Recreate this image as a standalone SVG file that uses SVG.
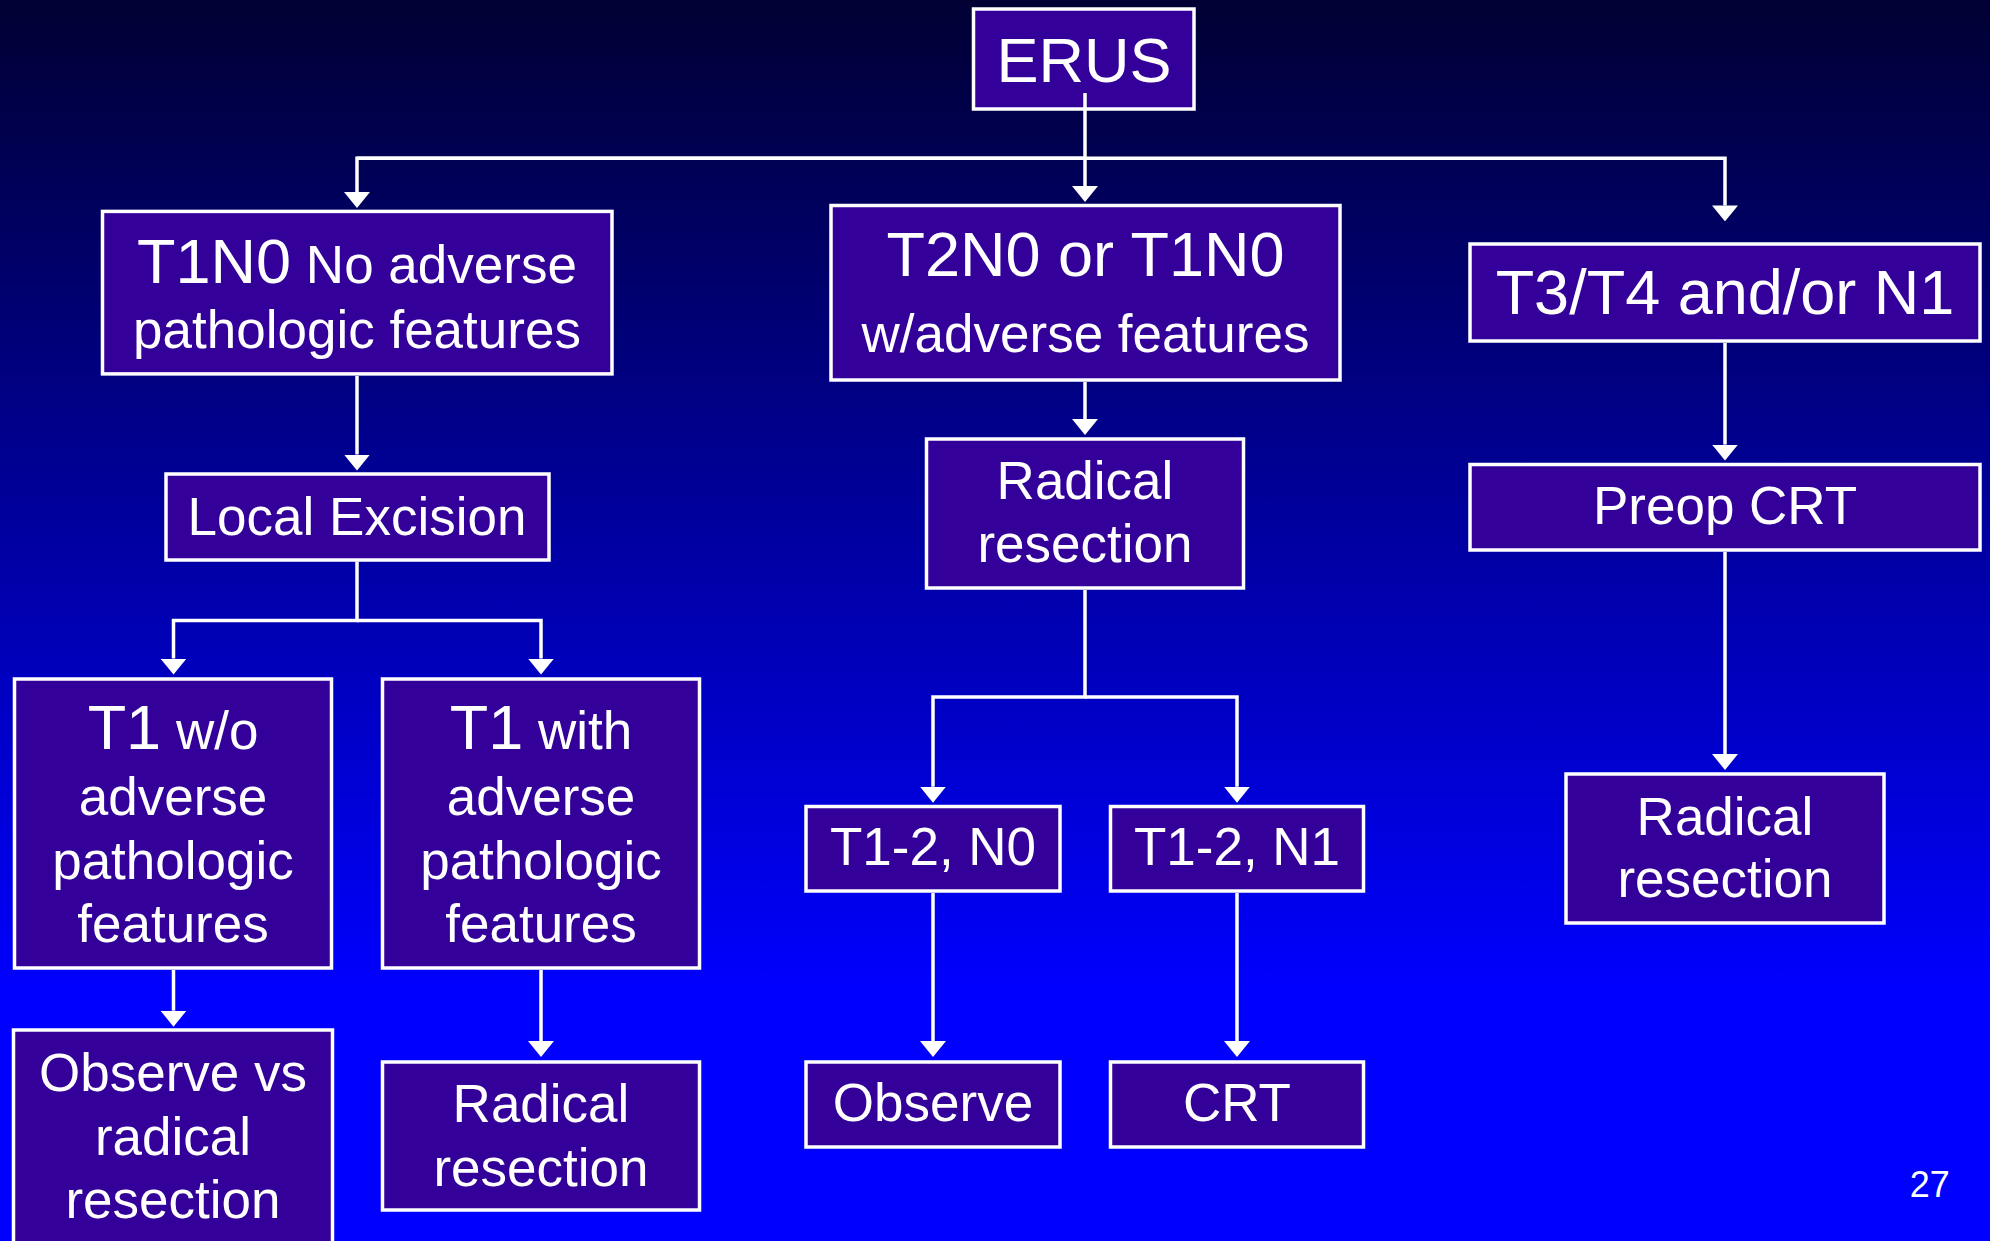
<svg xmlns="http://www.w3.org/2000/svg" width="1990" height="1241" viewBox="0 0 1990 1241">
<defs>
<linearGradient id="bg" x1="0" y1="0" x2="0" y2="1">
<stop offset="0" stop-color="#000033"/>
<stop offset="0.8" stop-color="#0000FF"/>
<stop offset="1" stop-color="#0000FF"/>
</linearGradient>
<marker id="arr" markerUnits="userSpaceOnUse" viewBox="0 0 16 26" markerWidth="16" markerHeight="26" refX="0" refY="13" orient="auto">
<path d="M0,0 L16,13 L0,26 z" fill="#FFFFFF"/>
</marker>
<style>
.box{fill:#330099;stroke:#FFFFFF;stroke-width:3.5}
.t{font-family:"Liberation Sans",Arial,Helvetica,sans-serif;fill:#FFFFFF;text-anchor:middle;font-size:53px}
.b{font-size:63px}
.c{fill:none;stroke:#FFFFFF;stroke-width:3.5;marker-end:url(#arr)}
.n{fill:none;stroke:#FFFFFF;stroke-width:3.5}
</style>
</defs>
<rect x="0" y="0" width="1990" height="1241" fill="url(#bg)"/>

<g id="connectors">
<path class="n" d="M1085 158.3 H357"/>
<path class="c" d="M1085 93 V186"/>
<path class="c" d="M1085 158.3 H357 V192"/>
<path class="c" d="M1085 158.3 H1725 V205.4"/>
<path class="c" d="M357 376 V454.5"/>
<path class="c" d="M1085 382 V419"/>
<path class="c" d="M1725 343 V444.6"/>
<path class="c" d="M357 561.5 V620.5 H173.5 V658.6"/>
<path class="c" d="M357 620.5 H541 V658.6"/>
<path class="c" d="M173.5 970 V1010.7"/>
<path class="c" d="M541 970 V1041"/>
<path class="c" d="M1085 590 V697 H933 V786.7"/>
<path class="c" d="M1085 697 H1237 V786.7"/>
<path class="c" d="M933 893 V1041"/>
<path class="c" d="M1237 893 V1041"/>
<path class="c" d="M1725 552 V754"/>
</g>

<g id="erus">
<rect class="box" x="973.5" y="9" width="220.5" height="100"/>
<text class="t b" x="1084" y="81.7">ERUS</text>
</g>
<path class="n" d="M1085 93 V109"/>

<g id="t1n0">
<rect class="box" x="102.5" y="211.4" width="509.5" height="162.5"/>
<text class="t" x="357" y="282.7"><tspan class="b">T1N0</tspan> No adverse</text>
<text class="t" x="357" y="348">pathologic features</text>
</g>

<g id="t2n0">
<rect class="box" x="831" y="205.5" width="509" height="174.5"/>
<text class="t b" x="1085.5" y="275.6">T2N0 or T1N0</text>
<text class="t" x="1085.5" y="352">w/adverse features</text>
</g>

<g id="t3t4">
<rect class="box" x="1470" y="244" width="510" height="97"/>
<text class="t b" x="1725" y="314.4">T3/T4 and/or N1</text>
</g>

<g id="local-excision">
<rect class="box" x="166" y="474" width="383" height="86"/>
<text class="t" x="357" y="534.6">Local Excision</text>
</g>

<g id="radical-mid">
<rect class="box" x="926.5" y="439" width="317" height="149"/>
<text class="t" x="1085" y="499">Radical</text>
<text class="t" x="1085" y="562.3">resection</text>
</g>

<g id="preop-crt">
<rect class="box" x="1470" y="464.5" width="510" height="85.5"/>
<text class="t" x="1725" y="524">Preop CRT</text>
</g>

<g id="t1-wo">
<rect class="box" x="14.5" y="679" width="317" height="289"/>
<text class="t" x="173" y="748.5"><tspan class="b">T1</tspan> w/o</text>
<text class="t" x="173" y="815">adverse</text>
<text class="t" x="173" y="879">pathologic</text>
<text class="t" x="173" y="942.3">features</text>
</g>

<g id="t1-with">
<rect class="box" x="382.5" y="679" width="317" height="289"/>
<text class="t" x="541" y="748.5"><tspan class="b">T1</tspan> with</text>
<text class="t" x="541" y="815">adverse</text>
<text class="t" x="541" y="879">pathologic</text>
<text class="t" x="541" y="942.3">features</text>
</g>

<g id="observe-vs">
<rect class="box" x="13.5" y="1030" width="319" height="260"/>
<text class="t" x="173" y="1090.7">Observe vs</text>
<text class="t" x="173" y="1155">radical</text>
<text class="t" x="173" y="1218.3">resection</text>
</g>

<g id="radical-left">
<rect class="box" x="382.5" y="1062" width="317" height="148"/>
<text class="t" x="541" y="1122">Radical</text>
<text class="t" x="541" y="1185.5">resection</text>
</g>

<g id="t12-n0">
<rect class="box" x="806" y="806.5" width="254" height="84.5"/>
<text class="t" x="933" y="865">T1-2, N0</text>
</g>

<g id="t12-n1">
<rect class="box" x="1110.5" y="806.5" width="253" height="84.5"/>
<text class="t" x="1237" y="865">T1-2, N1</text>
</g>

<g id="observe">
<rect class="box" x="806" y="1062" width="254" height="85"/>
<text class="t" x="933" y="1121.4">Observe</text>
</g>

<g id="crt">
<rect class="box" x="1110.5" y="1062" width="253" height="85"/>
<text class="t" x="1237" y="1121.4">CRT</text>
</g>

<g id="radical-right">
<rect class="box" x="1566" y="774" width="318" height="149"/>
<text class="t" x="1725" y="834.7">Radical</text>
<text class="t" x="1725" y="896.8">resection</text>
</g>

<text class="t" x="1929.7" y="1196.5" style="font-size:36px">27</text>
</svg>
